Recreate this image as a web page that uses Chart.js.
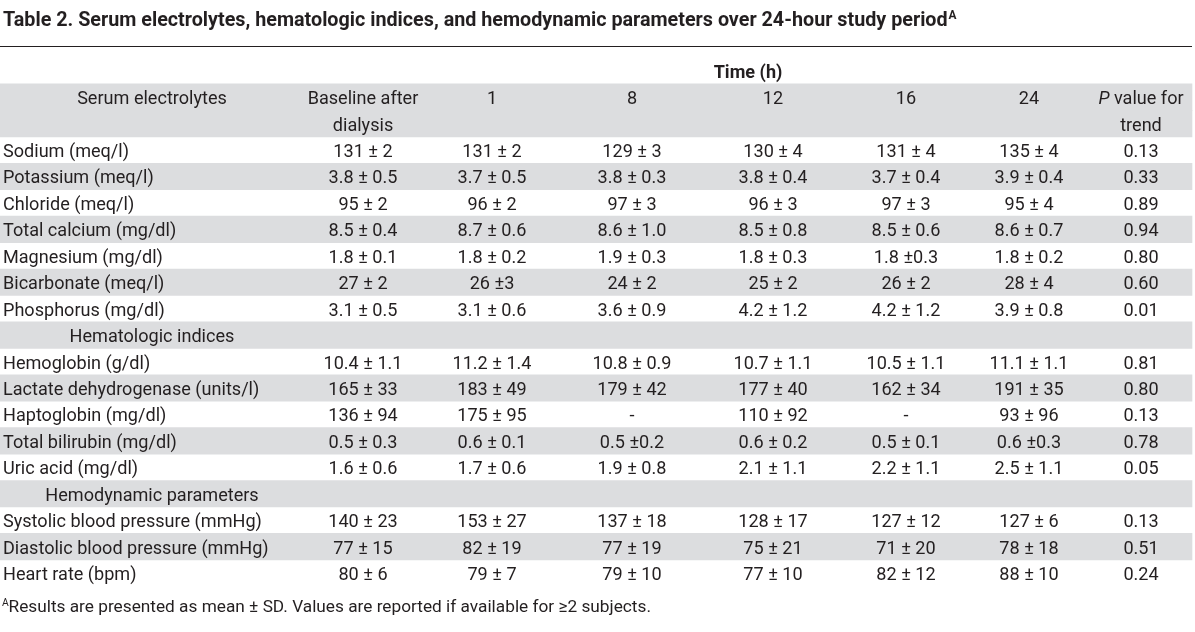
<!DOCTYPE html>
<html>
<head>
<meta charset="utf-8">
<title>Table 2</title>
<script src="https://cdn.jsdelivr.net/npm/chart.js@4.4.1/dist/chart.umd.min.js"></script>
<style>
  html, body { margin:0; padding:0; background:#fff; }
  canvas { display:block; }
</style>
</head>
<body>
<canvas id="tbl" width="1195" height="632"></canvas>
<script>
// table text
const titleText = 'Table 2. Serum electrolytes, hematologic indices, and hemodynamic parameters over 24-hour study period';
const footText = 'Results are presented as mean ± SD. Values are reported if available for ≥2 subjects.';
const timeHeader = 'Time (h)';
const timeCols = ['Baseline after', '1', '8', '12', '16', '24'];
const timeCols2 = ['dialysis', '', '', '', '', ''];

// serum electrolytes
const electrolyteNames = ['Sodium (meq/l)', 'Potassium (meq/l)', 'Chloride (meq/l)', 'Total calcium (mg/dl)', 'Magnesium (mg/dl)', 'Bicarbonate (meq/l)', 'Phosphorus (mg/dl)'];
const electrolyteValues = [
  ['131 ± 2', '131 ± 2', '129 ± 3', '130 ± 4', '131 ± 4', '135 ± 4'],
  ['3.8 ± 0.5', '3.7 ± 0.5', '3.8 ± 0.3', '3.8 ± 0.4', '3.7 ± 0.4', '3.9 ± 0.4'],
  ['95 ± 2', '96 ± 2', '97 ± 3', '96 ± 3', '97 ± 3', '95 ± 4'],
  ['8.5 ± 0.4', '8.7 ± 0.6', '8.6 ± 1.0', '8.5 ± 0.8', '8.5 ± 0.6', '8.6 ± 0.7'],
  ['1.8 ± 0.1', '1.8 ± 0.2', '1.9 ± 0.3', '1.8 ± 0.3', '1.8 ±0.3', '1.8 ± 0.2'],
  ['27 ± 2', '26 ±3', '24 ± 2', '25 ± 2', '26 ± 2', '28 ± 4'],
  ['3.1 ± 0.5', '3.1 ± 0.6', '3.6 ± 0.9', '4.2 ± 1.2', '4.2 ± 1.2', '3.9 ± 0.8']
];
const electrolyteP = ['0.13', '0.33', '0.89', '0.94', '0.80', '0.60', '0.01'];

// hematologic indices
const hematologicNames = ['Hemoglobin (g/dl)', 'Lactate dehydrogenase (units/l)', 'Haptoglobin (mg/dl)', 'Total bilirubin (mg/dl)', 'Uric acid (mg/dl)'];
const hematologicValues = [
  ['10.4 ± 1.1', '11.2 ± 1.4', '10.8 ± 0.9', '10.7 ± 1.1', '10.5 ± 1.1', '11.1 ± 1.1'],
  ['165 ± 33', '183 ± 49', '179 ± 42', '177 ± 40', '162 ± 34', '191 ± 35'],
  ['136 ± 94', '175 ± 95', '-', '110 ± 92', '-', '93 ± 96'],
  ['0.5 ± 0.3', '0.6 ± 0.1', '0.5 ±0.2', '0.6 ± 0.2', '0.5 ± 0.1', '0.6 ±0.3'],
  ['1.6 ± 0.6', '1.7 ± 0.6', '1.9 ± 0.8', '2.1 ± 1.1', '2.2 ± 1.1', '2.5 ± 1.1']
];
const hematologicP = ['0.81', '0.80', '0.13', '0.78', '0.05'];

// hemodynamic parameters
const hemodynamicNames = ['Systolic blood pressure (mmHg)', 'Diastolic blood pressure (mmHg)', 'Heart rate (bpm)'];
const hemodynamicValues = [
  ['140 ± 23', '153 ± 27', '137 ± 18', '128 ± 17', '127 ± 12', '127 ± 6'],
  ['77 ± 15', '82 ± 19', '77 ± 19', '75 ± 21', '71 ± 20', '78 ± 18'],
  ['80 ± 6', '79 ± 7', '79 ± 10', '77 ± 10', '82 ± 12', '88 ± 10']
];
const hemodynamicP = ['0.13', '0.51', '0.24'];

// layout: column centres on the x scale (px units), colours, fonts
const colCenters = [152, 363, 492, 632, 773, 906, 1029, 1141];
const tableRight = 1192;
const shadeColor = '#dcdddf';
const inkColor = '#231f20';
const fontFamily = 'Roboto, "Liberation Sans", Arial, sans-serif';
const textDrop = 2.5; // roboto sits a bit high with 'middle'

// build row list
const rows = [];
rows.push({ kind:'time' });
rows.push({ kind:'head', left:'Serum electrolytes', cells:timeCols, p:'P| value for', shade:true });
rows.push({ kind:'head', left:'', cells:timeCols2, p:'|trend', shade:true });
let bodyIdx = 0;
function addBlock(section, names, values, pvals){
  if(section){ rows.push({ kind:'section', left:section, shade: bodyIdx % 2 === 1 }); bodyIdx++; }
  names.forEach((n, i) => {
    rows.push({ kind:'data', left:n, cells:values[i], p:'|' + pvals[i], shade: bodyIdx % 2 === 1 });
    bodyIdx++;
  });
}
addBlock(null, electrolyteNames, electrolyteValues, electrolyteP);
addBlock('Hematologic indices', hematologicNames, hematologicValues, hematologicP);
addBlock('Hemodynamic parameters', hemodynamicNames, hemodynamicValues, hemodynamicP);

// fit a font size so sample text gets a given width
function fitSize(ctx, weight, sample, target){
  ctx.font = weight + ' 20px ' + fontFamily;
  return 20 * target / ctx.measureText(sample).width;
}

const tablePlugin = {
  id: 'tableText',
  afterDatasetsDraw(chart){
    const { ctx, scales:{ x, y } } = chart;
    const bodySize = fitSize(ctx, 'normal', 'Systolic blood pressure (mmHg)', 259);
    const footSize = fitSize(ctx, 'normal', footText, 643);
    const titleSize = fitSize(ctx, 'bold', titleText, 945);
    const bodyFont = 'normal ' + bodySize.toFixed(2) + 'px ' + fontFamily;
    ctx.save();
    ctx.fillStyle = inkColor;
    ctx.textBaseline = 'middle';

    // title + rule
    ctx.font = 'bold ' + titleSize.toFixed(2) + 'px ' + fontFamily;
    ctx.textAlign = 'left';
    ctx.fillText(titleText, 3, 19 + textDrop);
    const tw = ctx.measureText(titleText).width;
    ctx.font = 'bold ' + (titleSize * 0.6).toFixed(2) + 'px ' + fontFamily;
    ctx.fillText('A', 3 + tw + 1, 14 + textDrop);
    ctx.strokeStyle = inkColor;
    ctx.lineWidth = 1;
    ctx.beginPath(); ctx.moveTo(0, 46.5); ctx.lineTo(tableRight, 46.5); ctx.stroke();

    rows.forEach((r, i) => {
      const py = y.getPixelForValue(i) + textDrop;
      ctx.font = bodyFont;
      if(r.kind === 'time'){
        ctx.font = 'bold ' + bodySize.toFixed(2) + 'px ' + fontFamily;
        ctx.textAlign = 'center';
        ctx.fillText(timeHeader, x.getPixelForValue(748), py);
        return;
      }
      if(r.kind === 'section' || r.kind === 'head'){
        ctx.textAlign = 'center';
        ctx.fillText(r.left, x.getPixelForValue(colCenters[0]), py);
      } else {
        ctx.textAlign = 'left';
        ctx.fillText(r.left, x.getPixelForValue(3), py);
      }
      if(!r.cells) return;
      ctx.textAlign = 'center';
      r.cells.forEach((c, j) => ctx.fillText(c, x.getPixelForValue(colCenters[j + 1]), py));
      // p column, optional italic lead
      const parts = r.p.split('|');
      const it = 'italic ' + bodySize.toFixed(2) + 'px ' + fontFamily;
      ctx.font = it; const w1 = ctx.measureText(parts[0]).width;
      ctx.font = bodyFont; const w2 = ctx.measureText(parts[1]).width;
      const sx = x.getPixelForValue(colCenters[7]) - (w1 + w2) / 2;
      ctx.textAlign = 'left';
      ctx.font = it; ctx.fillText(parts[0], sx, py);
      ctx.font = bodyFont; ctx.fillText(parts[1], sx + w1, py);
    });

    // footnote
    ctx.textAlign = 'left';
    ctx.font = 'normal ' + (footSize * 0.6).toFixed(2) + 'px ' + fontFamily;
    ctx.fillText('A', 2, 601 + textDrop);
    ctx.font = 'normal ' + footSize.toFixed(2) + 'px ' + fontFamily;
    ctx.fillText(footText, 8.5, 605 + textDrop);
    ctx.restore();
  }
};

new Chart(document.getElementById('tbl'), {
  type: 'bar',
  data: {
    labels: rows.map((r, i) => 'row' + i),
    datasets: [{
      data: rows.map(r => r.shade ? [0, tableRight] : null),
      backgroundColor: shadeColor,
      borderWidth: 0,
      barPercentage: 1,
      categoryPercentage: 1
    }]
  },
  options: {
    indexAxis: 'y',
    responsive: false,
    animation: false,
    devicePixelRatio: 1,
    events: [],
    layout: { padding: { top: 57.5, bottom: 45.7, left: 0, right: 0 } },
    scales: {
      x: { type: 'linear', min: 0, max: 1195, display: false },
      y: { display: false }
    },
    plugins: { legend: { display: false }, tooltip: { enabled: false } }
  },
  plugins: [tablePlugin]
});
</script>
</body>
</html>
